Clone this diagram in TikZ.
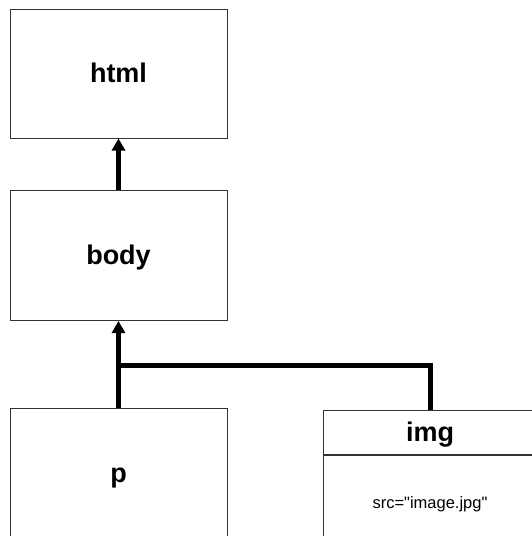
\documentclass[tikz,border=0pt]{standalone}
\usepackage{fontspec}
\setmainfont{Liberation Sans}
% family without the TeX quote mapping, so " stays straight
\newfontfamily\attrfont{Liberation Sans}
\usetikzlibrary{arrows.meta}
\tikzset{
  elem/.style={draw=black!80, line width=1pt, fill=white, rectangle, inner sep=0pt,
    font=\fontsize{27}{31}\selectfont\bfseries, text height=18.5pt, text depth=0pt},
  attr/.style={draw=black!80, line width=1pt, fill=white, rectangle, inner sep=0pt,
    font=\attrfont\fontsize{16.5}{19}\selectfont, text height=12pt, text depth=4pt},
  conn/.style={line width=5pt, black},
  tip/.style={-{Triangle[width=13pt,length=12pt]}}
}
\begin{document}
\begin{tikzpicture}[x=1pt, y=-1pt]
\useasboundingbox (0,0) rectangle (532,536);
\clip (0,0) rectangle (532,536);

% element boxes
\node[elem, minimum width=217pt, minimum height=129pt] (html) at (118.5,73.5) {html};
\node[elem, minimum width=217pt, minimum height=130pt] (body) at (118.5,255.5) {body};
\node[elem, minimum width=217pt, minimum height=130pt] (p) at (118.5,473) {p};

% img element: title band and attribute band
\node[elem, minimum width=214pt, minimum height=44pt] (img) at (430,432) {img};
\node[attr, minimum width=214pt, minimum height=98pt, anchor=north] (imgattr) at (img.south) {src="image.jpg"};

% child-to-parent connectors
\coordinate (jn) at (118.5,365);
\draw[conn, tip] (body.north) -- (html.south);
\draw[conn, tip] (p.north) -- (body.south);
\draw[conn] (img.north) |- (jn);
\end{tikzpicture}
\end{document}
